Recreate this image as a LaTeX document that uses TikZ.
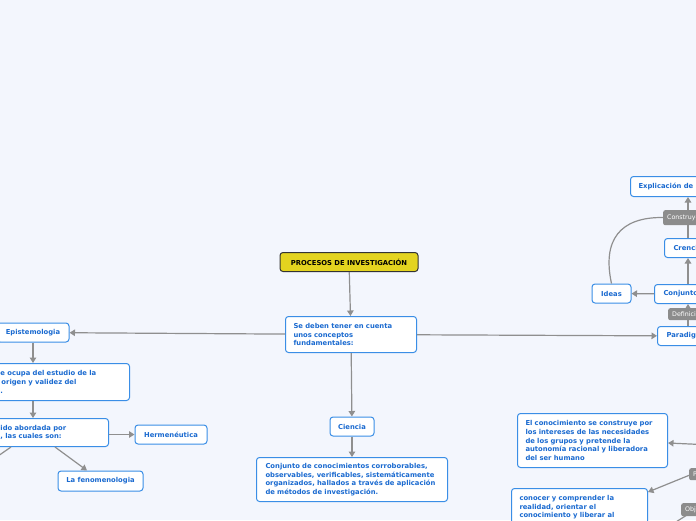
\documentclass[tikz,border=0pt]{standalone}
\usepackage{fontspec}
\setmainfont{DejaVu Sans}
\usetikzlibrary{arrows.meta}
\definecolor{bgc}{HTML}{F3F6FD}
\definecolor{topc}{HTML}{3A8EE6}
\definecolor{txtc}{HTML}{1A6AD0}
\definecolor{rootc}{HTML}{E4D41F}
\definecolor{linec}{HTML}{8F8F8F}
\definecolor{tagc}{HTML}{8C8C8C}

\begin{document}
\begin{tikzpicture}[x=1pt, y=-1pt, font=\bfseries\fontsize{6.8}{8.6}\selectfont]
  \tikzset{
    topic/.style={draw=topc, line width=1pt, fill=white, rounded corners=3pt, text=txtc, inner sep=0pt},
    sub/.style={topic, align=left, anchor=north west, inner xsep=8pt},
    root/.style={draw=black!80, line width=1pt, fill=rootc, rounded corners=3pt, inner sep=0pt, minimum width=138pt, minimum height=19pt},
    tag/.style={fill=tagc, text=white, rounded corners=2pt, font=\fontsize{6.3}{7}\selectfont, anchor=north west, inner xsep=4pt, inner ysep=0pt},
    conn/.style={draw=linec, line width=1.2pt, -{Triangle[length=5.5pt,width=6.5pt]}},
    link/.style={draw=linec, line width=1.2pt}
  }
  \fill[bgc] (0,0) rectangle (696,520);
  \useasboundingbox (0,0) rectangle (696,520);
  \clip (0,0) rectangle (696,520);

  % centre
  \node[root] (root) at (349,262) {PROCESOS DE INVESTIGACIÓN};
  \node[sub, text width=115pt, minimum height=36pt] (sedeben) at (285,316) {Se deben tener en cuenta\\unos conceptos\\fundamentales:};
  \node[topic, minimum width=44pt, minimum height=19pt] (ciencia) at (352,426.5) {Ciencia};
  \node[sub, inner xsep=9pt, text width=173pt, minimum height=44pt] (conj) at (256,457) {Conjunto de conocimientos corroborables,\\observables, verificables, sistemáticamente\\organizados, hallados a través de aplicación\\de métodos de investigación.};

  % left branch
  \node[topic, minimum width=72pt, minimum height=19pt] (epis) at (33,332.5) {Epistemologia};
  \node[sub, text width=121pt, minimum height=37pt] (seocupa) at (-8,363) {e ocupa del estudio de la\\\hspace*{1pt}origen y validez del\\.};
  \node[sub, text width=100pt, minimum height=28pt] (abord) at (-8,418) {ido abordada por\\, las cuales son:};
  \node[topic, minimum width=72pt, minimum height=19pt] (herm) at (171,434.5) {Hermenéutica};
  \node[topic, minimum width=85pt, minimum height=20pt] (fenom) at (100.5,481) {La fenomenologia};

  % right branch
  \node[sub, text width=90pt, minimum height=20pt] (expl) at (630,176) {Explicación de};
  \node[sub, inner xsep=9pt, text width=60pt, minimum height=19pt] (crencias) at (664,238) {Crencias};
  \node[sub, inner xsep=9pt, text width=60pt, minimum height=19pt] (conjunto) at (654,284) {Conjunto};
  \node[topic, minimum width=39pt, minimum height=19pt] (ideas) at (611.5,293.5) {Ideas};
  \node[sub, inner xsep=9pt, text width=60pt, minimum height=19pt] (paradigma) at (657,326) {Paradigma};
  \node[sub, text width=134pt, minimum height=54pt] (elcon) at (517,413) {El conocimiento se construye por\\los intereses de las necesidades\\de los grupos y pretende la\\autonomía racional y liberadora\\del ser humano};
  \node[sub, inner ysep=7pt, text width=120pt] (conocer) at (511,488) {conocer y comprender la\\realidad, orientar el\\conocimiento y liberar al};

  % connectors
  \draw[conn] (root) -- (sedeben);
  \draw[conn] (sedeben) -- (epis);
  \draw[conn] (sedeben) -- (paradigma);
  \draw[conn] (sedeben) -- (ciencia);
  \draw[conn] (ciencia) -- (conj);
  \draw[conn] (epis.south) -- (epis.south |- seocupa.north);
  \draw[conn] (epis.south |- seocupa.south) -- (epis.south |- abord.north);
  \draw[conn] (abord.east |- herm.west) -- (herm.west);
  \draw[conn] (abord.south -| 55,0) -- (fenom.north -| 87,0);
  \coordinate (offl) at (-12,463);
  \draw[link] (abord.south -| 11,0) -- (offl);

  \draw[conn] (paradigma.north -| 688,0) -- (conjunto.south -| 688,0);
  \draw[conn] (conjunto.north -| 688,0) -- (crencias.south -| 688,0);
  \draw[conn] (crencias.north -| 688,0) -- (expl.south -| 688,0);
  \draw[conn] (conjunto) -- (ideas);
  \coordinate (cstart) at (663,217.5);
  \draw[link] (ideas.north) .. controls (602,240) and (620,217) .. (cstart);

  \coordinate (eoff) at (712,445);
  \draw[conn] (eoff) -- (elcon.east |- 0,443);
  \coordinate (poff) at (712,466);
  \draw[conn] (poff) -- (conocer.east |- 0,492);
  \coordinate (ooff) at (720,494);
  \coordinate (olow) at (668,527);
  \draw[link] (ooff) -- (olow);

  % relation tags
  \node[tag, minimum height=15pt] (construye) at (663,210) {Construye};
  \node[tag, minimum height=12pt] (definicion) at (668,308) {Definición};
  \node[tag, minimum height=12pt] (ptag) at (689,468) {P};
  \node[tag, minimum height=13pt] (objtag) at (681,503) {Obj};
\end{tikzpicture}
\end{document}
